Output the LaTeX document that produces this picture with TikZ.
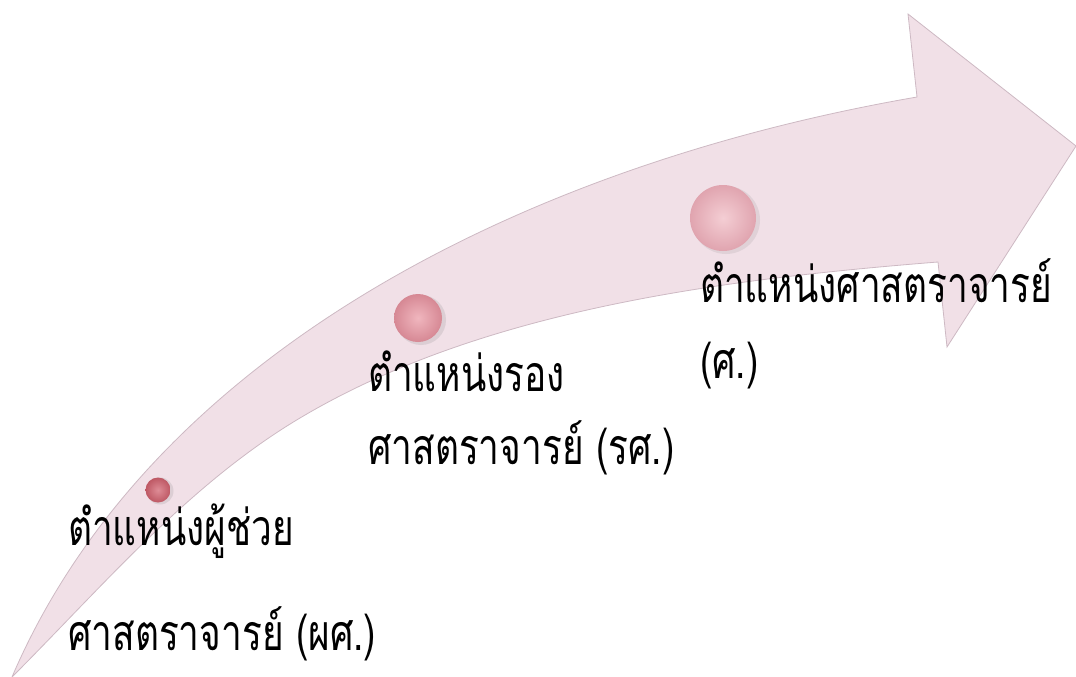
\documentclass[tikz,border=0pt]{standalone}
\usepackage{fontspec}
\newfontfamily\thaifont[Script=Thai]{Loma}
\definecolor{arrowpink}{RGB}{241,224,231}
\definecolor{arrowedge}{RGB}{205,185,195}
\tikzset{
  lbl/.style={font=\thaifont\fontsize{50}{58}\selectfont, inner sep=0pt, anchor=base west, text=black, xscale=0.74},
}
\begin{document}
\begin{tikzpicture}[x=1pt,y=-1pt]
\useasboundingbox (0,0) rectangle (1076,677);
% arrow body
\path[fill=arrowpink, draw=arrowedge, line width=0.8pt, line join=miter]
  (12,677) .. controls (150,355) and (523,165) .. (917,97)
  -- (908,14) -- (1076,146) -- (947,347) -- (938,262)
  .. controls (725,279) and (483,309) .. (300,418)
  .. controls (189,484) and (102,587) .. (12,677) -- cycle;
% balls
\fill[gray, opacity=0.18] (160,491) circle (13.5);
\shade[inner color={rgb,255:red,222;green,140;blue,150}, outer color={rgb,255:red,190;green,88;blue,100}] (158,490) circle (12.5);
\fill[gray, opacity=0.18] (421,320) circle (25);
\shade[inner color={rgb,255:red,240;green,182;blue,190}, outer color={rgb,255:red,214;green,136;blue,148}] (418,318) circle (24);
\fill[gray, opacity=0.15] (726,220) circle (34);
\shade[inner color={rgb,255:red,244;green,206;blue,212}, outer color={rgb,255:red,224;green,164;blue,175}] (723,218) circle (33);
% texts
\node[lbl] (a1) at (68,545) {ตำแหน่งผู้ช่วย};
\node[lbl] (a2) at (68,650) {ศาสตราจารย์ (ผศ.)};
\node[lbl] (b1) at (368,391) {ตำแหน่งรอง};
\node[lbl] (b2) at (368,464) {ศาสตราจารย์ (รศ.)};
\node[lbl] (c1) at (700,302) {ตำแหน่งศาสตราจารย์};
\node[lbl] (c2) at (700,378) {(ศ.)};
\end{tikzpicture}
\end{document}
